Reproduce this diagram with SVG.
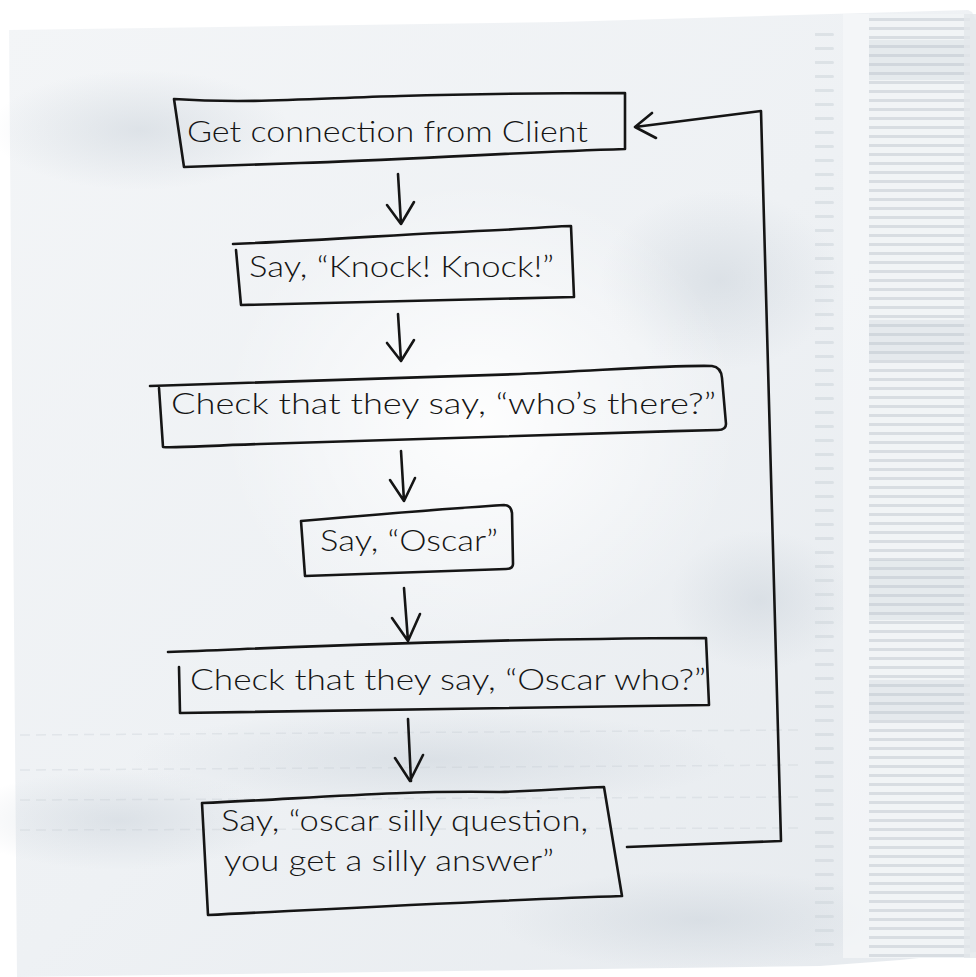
<svg xmlns="http://www.w3.org/2000/svg" width="976" height="977" viewBox="0 0 976 977">
  <defs>
    <style>
      .ink { fill: none; stroke: #151515; stroke-width: 2.6; stroke-linecap: round; stroke-linejoin: round; }
      .lbl { font-family: Lato, "Open Sans", "Liberation Sans", sans-serif; font-size: 29px; font-weight: 300; fill: #151515; }
    </style>
    <linearGradient id="napkinGrad" x1="0" y1="0" x2="1" y2="1">
      <stop offset="0" stop-color="#f3f5f7"/>
      <stop offset="0.5" stop-color="#eef1f4"/>
      <stop offset="1" stop-color="#e6eaee"/>
    </linearGradient>
    <radialGradient id="blob" cx="0.5" cy="0.5" r="0.5">
      <stop offset="0" stop-color="#c9d1d9" stop-opacity="0.5"/>
      <stop offset="1" stop-color="#c9d1d9" stop-opacity="0"/>
    </radialGradient>
    <radialGradient id="light" cx="0.5" cy="0.5" r="0.5">
      <stop offset="0" stop-color="#ffffff" stop-opacity="0.9"/>
      <stop offset="1" stop-color="#ffffff" stop-opacity="0"/>
    </radialGradient>
    <pattern id="ridges" x="0" y="0" width="20" height="9" patternUnits="userSpaceOnUse">
      <rect width="20" height="9" fill="#f1f4f6"/>
      <rect y="0" width="20" height="3" fill="#cdd4db" opacity="0.7"/>
    </pattern>
    <pattern id="shortRidges" x="0" y="0" width="30" height="14" patternUnits="userSpaceOnUse">
      <rect x="4" y="5" width="20" height="3" rx="1.5" fill="#cdd4db" opacity="0.55"/>
    </pattern>
  </defs>

  <!-- background & napkin -->
  <rect width="976" height="977" fill="#ffffff"/>
  <path d="M9,30 L560,22 L968,10 L972,12 L976,20 L976,952 L900,960 L820,966 L17,977 Z" fill="url(#napkinGrad)"/>
  <ellipse cx="140" cy="130" rx="150" ry="60" fill="url(#blob)"/>
  <ellipse cx="720" cy="280" rx="120" ry="90" fill="url(#blob)"/>
  <ellipse cx="760" cy="600" rx="90" ry="70" fill="url(#blob)"/>
  <ellipse cx="120" cy="820" rx="160" ry="50" fill="url(#blob)"/>
  <ellipse cx="430" cy="760" rx="300" ry="50" fill="url(#blob)"/>
  <ellipse cx="700" cy="920" rx="200" ry="50" fill="url(#blob)"/>
  <ellipse cx="480" cy="420" rx="260" ry="240" fill="url(#light)"/>
  <rect x="815" y="22" width="28" height="930" fill="url(#shortRidges)"/>
  <rect x="843" y="14" width="26" height="944" fill="#f7f8fa" opacity="0.7"/>
  <rect x="869" y="14" width="101" height="944" fill="url(#ridges)"/>
  <rect x="869" y="40" width="101" height="40" fill="#b9c2cb" opacity="0.2"/>
  <rect x="869" y="320" width="101" height="40" fill="#b9c2cb" opacity="0.22"/>
  <rect x="869" y="560" width="101" height="60" fill="#b9c2cb" opacity="0.2"/>
  <rect x="869" y="680" width="101" height="40" fill="#b9c2cb" opacity="0.22"/>
  <rect x="964" y="14" width="12" height="944" fill="#e3e7eb" opacity="0.8"/>
  <g stroke="#c3cad1" stroke-width="1.5" stroke-dasharray="10 6" opacity="0.3">
    <line x1="20" y1="735" x2="800" y2="730"/>
    <line x1="20" y1="770" x2="800" y2="765"/>
    <line x1="20" y1="800" x2="800" y2="797"/>
    <line x1="20" y1="830" x2="800" y2="828"/>
  </g>

  <!-- connectors -->
  <g id="connectors" class="ink">
    <path d="M398,174 L401,224 M387,205 L401,224 L414,202"/>
    <path d="M398,314 L401,361 M387,343 L401,361 L414,340"/>
    <path d="M401,451 L404,501 M390,480 L404,501 L415,478"/>
    <path d="M404,588 L408,641 M392,618 L408,641 L420,614"/>
    <path d="M408,719 L411,781 M395,758 L410,781 L423,755"/>
    <path d="M627,847 L781,841 L761,111 L635,127 M652,113 L635,127 L656,138"/>
  </g>

  <!-- nodes -->
  <g id="node-get-connection">
    <path class="ink" d="M174,99 C250,104 320,98 400,96 C500,93 570,93 625,93 L625,149 C500,153 400,160 300,163 C250,165 210,166 184,167 Z"/>
    <text class="lbl" x="187" y="142" textLength="401" lengthAdjust="spacingAndGlyphs">Get connection from Client</text>
  </g>

  <g id="node-knock">
    <path class="ink" d="M233,244 C330,240 420,233 500,230 C540,228 560,226 571,226 L574,297 C460,300 350,303 241,305 L236,250"/>
    <text class="lbl" x="249" y="277" textLength="305" lengthAdjust="spacingAndGlyphs">Say, “Knock! Knock!”</text>
  </g>

  <g id="node-whos-there">
    <path class="ink" d="M150,386 C300,382 420,378 520,374 C610,370 670,365 712,366 Q721,367 722,378 L726,424 Q726,430 718,430 C560,434 400,440 260,444 C200,446 175,448 163,447 L159,388"/>
    <text class="lbl" x="171" y="414" textLength="545" lengthAdjust="spacingAndGlyphs">Check that they say, “who’s there?”</text>
  </g>

  <g id="node-oscar">
    <path class="ink" d="M301,521 C370,515 440,509 504,505 Q511,505 512,513 L513,564 Q513,569 506,569 L305,576 Z"/>
    <text class="lbl" x="320" y="551" textLength="178" lengthAdjust="spacingAndGlyphs">Say, “Oscar”</text>
  </g>

  <g id="node-oscar-who">
    <path class="ink" d="M168,652 C300,647 450,640 600,639 C650,638 690,638 706,638 L709,705 C560,708 380,711 180,713 L179,667"/>
    <text class="lbl" x="190" y="690" textLength="516" lengthAdjust="spacingAndGlyphs">Check that they say, “Oscar who?”</text>
  </g>

  <g id="node-silly-answer">
    <path class="ink" d="M202,803 C300,799 400,790 500,792 C560,790 590,787 604,787 L622,896 C500,900 350,908 208,915 Z"/>
    <text class="lbl" x="221" y="831" textLength="367" lengthAdjust="spacingAndGlyphs">Say, “oscar silly question,</text>
    <text class="lbl" x="224" y="871" textLength="330" lengthAdjust="spacingAndGlyphs">you get a silly answer”</text>
  </g>
</svg>
